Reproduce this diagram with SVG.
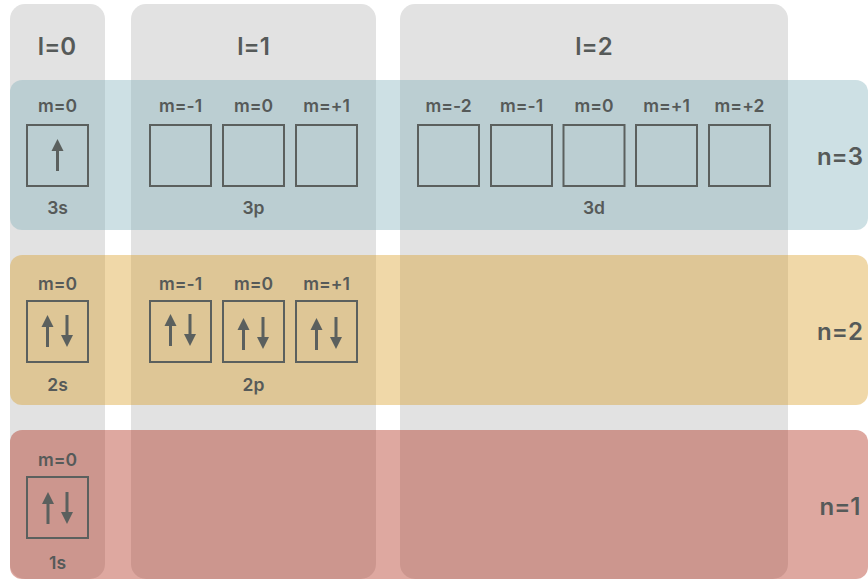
<svg xmlns="http://www.w3.org/2000/svg" xmlns:xlink="http://www.w3.org/1999/xlink" width="868" height="579" viewBox="0 0 868 579">
  <style>
    .col { fill: #e2e2e2; }
    .row { opacity: 0.4; }
    .n3 { fill: #82b1bb; }
    .n2 { fill: #da9e26; }
    .n1 { fill: #ad2612; }
    .box { fill: none; stroke: #5b605e; stroke-width: 2; }
    text { font-family: Inter, Lato, "Liberation Sans", sans-serif; font-weight: 600; fill: #565a59; text-anchor: middle; }
    .lab-l { font-size: 24px; }
    .lab-m { font-size: 17.5px; }
    .lab-o { font-size: 17.5px; }
    .lab-n { font-size: 24px; }
    .spin-line { stroke: #5b605e; stroke-width: 3; fill: none; }
    .spin-head { fill: #5b605e; }
  </style>
  <defs>
    <!-- spin arrows: tip at the origin, 32px long -->
    <g id="spin-up">
      <line class="spin-line" x1="0" y1="9" x2="0" y2="32"/>
      <polygon class="spin-head" points="-6,12 0,0 6,12"/>
    </g>
    <g id="spin-down">
      <line class="spin-line" x1="0" y1="0" x2="0" y2="23"/>
      <polygon class="spin-head" points="-6,20 0,32 6,20"/>
    </g>
  </defs>

  <!-- angular momentum columns -->
  <g id="col-l0">
    <rect class="col" x="10" y="4" width="95" height="575" rx="15"/>
    <text class="lab-l" x="57" y="55">l=0</text>
  </g>
  <g id="col-l1">
    <rect class="col" x="131" y="4" width="245" height="575" rx="15"/>
    <text class="lab-l" x="253.5" y="55">l=1</text>
  </g>
  <g id="col-l2">
    <rect class="col" x="400" y="4" width="388" height="575" rx="15"/>
    <text class="lab-l" x="594" y="55">l=2</text>
  </g>

  <!-- principal shells, translucent bands over the columns -->
  <g id="shell-n3">
    <rect class="row n3" x="10" y="80" width="858" height="150" rx="12"/>
    <text class="lab-n" x="840" y="165">n=3</text>
  </g>
  <g id="shell-n2">
    <rect class="row n2" x="10" y="255" width="858" height="150" rx="12"/>
    <text class="lab-n" x="840" y="340">n=2</text>
  </g>
  <g id="shell-n1">
    <rect class="row n1" x="10" y="430" width="858" height="149" rx="12"/>
    <text class="lab-n" x="840" y="515">n=1</text>
  </g>

  <!-- n=3 orbitals -->
  <g id="orb-3s">
    <text class="lab-m" x="57.5" y="112">m=0</text>
    <rect class="box" x="27" y="125" width="61" height="61"/>
    <use xlink:href="#spin-up" x="57.5" y="139"/>
    <text class="lab-o" x="57.5" y="214">3s</text>
  </g>
  <g id="orb-3p">
    <text class="lab-m" x="180.5" y="112">m=-1</text>
    <text class="lab-m" x="253.5" y="112">m=0</text>
    <text class="lab-m" x="326.5" y="112">m=+1</text>
    <rect class="box" x="150" y="125" width="61" height="61"/>
    <rect class="box" x="223" y="125" width="61" height="61"/>
    <rect class="box" x="296" y="125" width="61" height="61"/>
    <text class="lab-o" x="253.5" y="214">3p</text>
  </g>
  <g id="orb-3d">
    <text class="lab-m" x="448.5" y="112">m=-2</text>
    <text class="lab-m" x="521.5" y="112">m=-1</text>
    <text class="lab-m" x="594" y="112">m=0</text>
    <text class="lab-m" x="666.5" y="112">m=+1</text>
    <text class="lab-m" x="739.5" y="112">m=+2</text>
    <rect class="box" x="418" y="125" width="61" height="61"/>
    <rect class="box" x="491" y="125" width="61" height="61"/>
    <rect class="box" x="563.5" y="125" width="61" height="61"/>
    <rect class="box" x="636" y="125" width="61" height="61"/>
    <rect class="box" x="709" y="125" width="61" height="61"/>
    <text class="lab-o" x="594" y="214">3d</text>
  </g>

  <!-- n=2 orbitals -->
  <g id="orb-2s">
    <text class="lab-m" x="57.5" y="290">m=0</text>
    <rect class="box" x="27" y="301" width="61" height="61"/>
    <use xlink:href="#spin-up" x="47.5" y="315"/>
    <use xlink:href="#spin-down" x="67" y="315"/>
    <text class="lab-o" x="57.5" y="391">2s</text>
  </g>
  <g id="orb-2p">
    <text class="lab-m" x="180.5" y="290">m=-1</text>
    <text class="lab-m" x="253.5" y="290">m=0</text>
    <text class="lab-m" x="326.5" y="290">m=+1</text>
    <rect class="box" x="150" y="301" width="61" height="61"/>
    <rect class="box" x="223" y="301" width="61" height="61"/>
    <rect class="box" x="296" y="301" width="61" height="61"/>
    <use xlink:href="#spin-up" x="170.5" y="314"/>
    <use xlink:href="#spin-down" x="190" y="314"/>
    <use xlink:href="#spin-up" x="243.5" y="318"/>
    <use xlink:href="#spin-down" x="263" y="317"/>
    <use xlink:href="#spin-up" x="316.5" y="318"/>
    <use xlink:href="#spin-down" x="336" y="317"/>
    <text class="lab-o" x="253.5" y="391">2p</text>
  </g>

  <!-- n=1 orbital -->
  <g id="orb-1s">
    <text class="lab-m" x="57.5" y="466">m=0</text>
    <rect class="box" x="27" y="477" width="61" height="61"/>
    <use xlink:href="#spin-up" x="48" y="492"/>
    <use xlink:href="#spin-down" x="67" y="492"/>
    <text class="lab-o" x="57.5" y="569">1s</text>
  </g>
</svg>
